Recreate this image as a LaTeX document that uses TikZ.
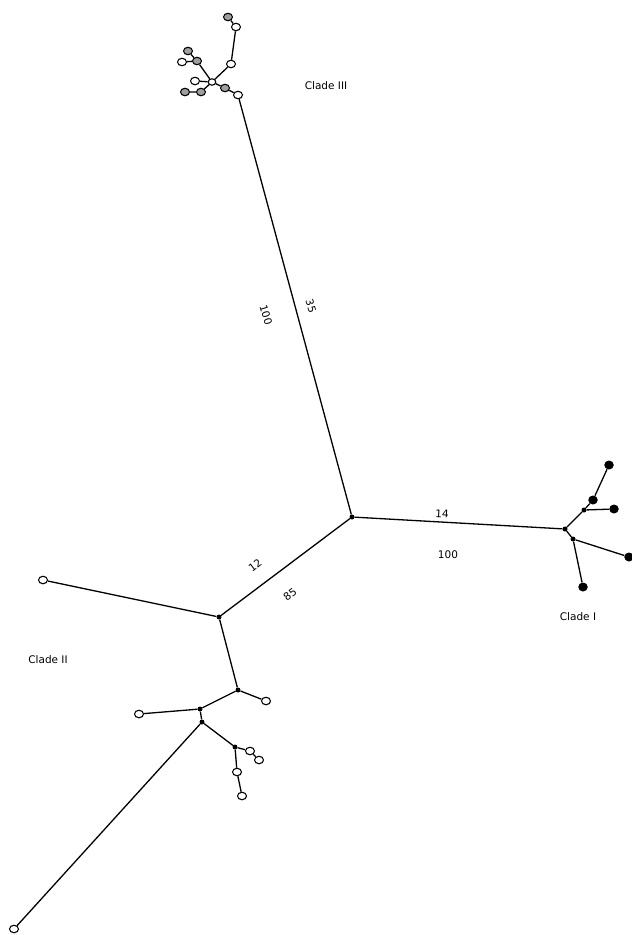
\documentclass[tikz,border=0pt]{standalone}
\usepackage{fontspec}
\setmainfont{DejaVu Sans}
\usetikzlibrary{shapes.geometric}
\begin{document}
\begin{tikzpicture}[x=1pt,y=-1pt,
  wn/.style={ellipse,draw,fill=white,line width=1.1pt,minimum width=9pt,minimum height=7.5pt,inner sep=0pt},
  gn/.style={wn,fill=gray!75},
  bn/.style={ellipse,fill=black,minimum width=9.5pt,minimum height=9pt,inner sep=0pt},
  dt/.style={circle,fill=black,minimum size=5pt,inner sep=0pt},
  br/.style={line width=1.3pt},
  lbl/.style={font=\fontsize{10.5}{12}\selectfont,inner sep=0pt},
  num/.style={font=\fontsize{10.5}{12}\selectfont,inner sep=0pt}]
\useasboundingbox (0,0) rectangle (632,935);
% Clade III
\node[gn] (t1) at (228,17) {};
\node[wn] (t2) at (236,27) {};
\node[wn] (t3) at (231,64) {};
\node[wn,minimum width=7.5pt,minimum height=6.5pt] (hub) at (212,82) {};
\node[gn] (t4) at (197,61) {};
\node[gn] (t5) at (188,51) {};
\node[wn] (t6) at (182,62) {};
\node[wn] (t7) at (195,81) {};
\node[gn] (t8) at (201,92) {};
\node[gn] (t9) at (185,92) {};
\node[gn] (t10) at (225,88) {};
\node[wn] (t11) at (238,95) {};
% centre
\node[dt] (c) at (352,517) {};
% Clade I
\node[dt] (j1) at (565,529) {};
\node[dt] (j2) at (573,539) {};
\node[dt] (j3) at (584,510) {};
\node[bn] (a1) at (593,500) {};
\node[bn] (a2) at (609,465) {};
\node[bn] (a3) at (614,509) {};
\node[bn] (a4) at (629,557) {};
\node[bn] (a5) at (583,587) {};
% Clade II
\node[dt] (n1) at (219,617) {};
\node[wn] (w1) at (43,580) {};
\node[dt] (n2) at (238,690) {};
\node[wn] (w2) at (266,701) {};
\node[dt] (n3) at (200,709) {};
\node[wn] (w3) at (139,714) {};
\node[dt] (n4) at (202,722) {};
\node[dt] (n5) at (235,747) {};
\node[wn] (w4) at (250,751) {};
\node[wn] (w5) at (259,760) {};
\node[wn] (w6) at (237,772) {};
\node[wn] (w7) at (242,796) {};
\node[wn] (w8) at (14,929) {};
% edges
\draw[br] (t1)--(t2) (t2)--(t3) (t3)--(hub) (hub)--(t4) (t4)--(t5) (t4)--(t6)
  (hub)--(t7) (hub)--(t8) (t8)--(t9) (hub)--(t10) (t10)--(t11) (t11)--(c);
\draw[br] (c)--(j1) (j1)--(j3) (j3)--(a1) (a1)--(a2) (j3)--(a3) (j1)--(j2) (j2)--(a4) (j2)--(a5);
\draw[br] (c)--(n1) (n1)--(w1) (n1)--(n2) (n2)--(w2) (n2)--(n3) (n3)--(w3) (n3)--(n4)
  (n4)--(n5) (n5)--(w4) (w4)--(w5) (n5)--(w6) (w6)--(w7) (n4)--(w8);
% labels
\node[lbl] (l3) at (326,86) {Clade III};
\node[lbl] (l1) at (578,617) {Clade I};
\node[lbl] (l2) at (48,660) {Clade II};
\node[num,rotate=-73] (b100) at (266,315) {100};
\node[num,rotate=-73] (b35) at (311,306) {35};
\node[num,rotate=37] (b12) at (255,565) {12};
\node[num,rotate=37] (b85) at (290,594) {85};
\node[num,rotate=-3] (b14) at (442,514) {14};
\node[num] (b100b) at (448,555) {100};
\end{tikzpicture}
\end{document}
